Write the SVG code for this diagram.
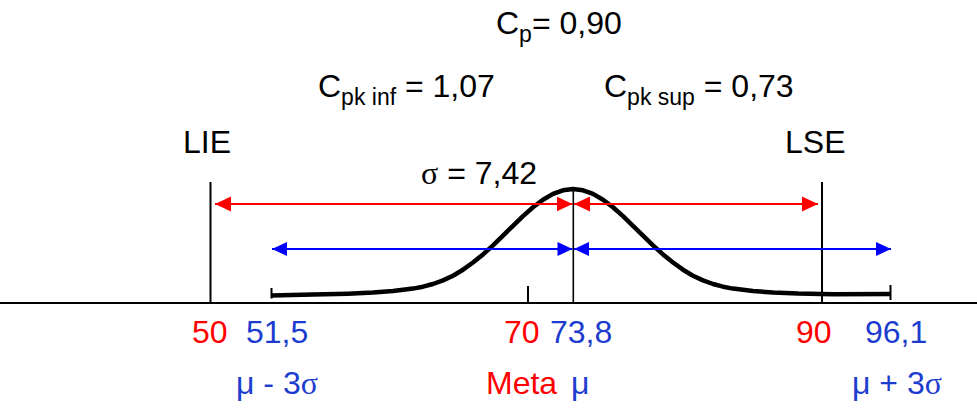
<svg xmlns="http://www.w3.org/2000/svg" width="977" height="408" viewBox="0 0 977 408">
  <style>
    text { font-family: "Liberation Sans", Arial, sans-serif; font-size: 32px; fill: #000; }
    .sub { font-size: 23px; }
    .red { fill: #ff0000; }
    .blue { fill: #1c3ccf; }
    .serif { font-family: "Liberation Serif", "Times New Roman", serif; }
    .axis { stroke: #000; stroke-width: 2; fill: none; }
    .thin { stroke: #000; stroke-width: 1.6; fill: none; }
    .curve { stroke: #000; stroke-width: 4.5; fill: none; stroke-linejoin: round; }
    .ra { stroke: #ff0000; stroke-width: 2.2; fill: none; marker-start: url(#rs); marker-end: url(#re); }
    .ba { stroke: #0000ff; stroke-width: 2.2; fill: none; marker-start: url(#bs); marker-end: url(#be); }
  </style>
  <defs>
    <marker id="re" markerUnits="userSpaceOnUse" markerWidth="17" markerHeight="16" refX="16" refY="8" orient="auto">
      <path d="M0,0.5 L16,8 L0,15.5 Z" fill="#ff0000"/>
    </marker>
    <marker id="rs" markerUnits="userSpaceOnUse" markerWidth="17" markerHeight="16" refX="0" refY="8" orient="auto">
      <path d="M16,0.5 L0,8 L16,15.5 Z" fill="#ff0000"/>
    </marker>
    <marker id="be" markerUnits="userSpaceOnUse" markerWidth="17" markerHeight="16" refX="16" refY="8" orient="auto">
      <path d="M0,1 L15,8 L0,15 Z" fill="#0000ff" transform="translate(1,0)"/>
    </marker>
    <marker id="bs" markerUnits="userSpaceOnUse" markerWidth="17" markerHeight="16" refX="0" refY="8" orient="auto">
      <path d="M15,1 L0,8 L15,15 Z" fill="#0000ff"/>
    </marker>
  </defs>

  <g id="axis">
    <line class="axis" x1="0" y1="303" x2="977" y2="303"/>
  </g>

  <g id="lie-line"><line class="axis" x1="210.5" y1="182" x2="210.5" y2="303"/></g>
  <g id="lse-line"><line class="axis" x1="822" y1="182" x2="822" y2="303"/></g>
  <g id="mu-line"><line class="thin" x1="573.3" y1="189" x2="573.3" y2="303"/></g>
  <g id="meta-tick"><line class="axis" x1="528" y1="286" x2="528" y2="303"/></g>

  <g id="curve">
    <path class="curve" d="M271,295.5 L313,294.6 L348,293.7 L373,292.6 L393,291.1 L413,288.6 L423,286.7 L433,284.0 L443,280.4 L453,275.7 L463,269.7 L473,262.5 L483,254.4 L493,245.3 L503,235.6 L513,225.8 L523,216.1 L533,207.3 L543,199.7 L553,193.9 L563,190.3 L573,189 L583,190.3 L593,193.9 L603,199.7 L613,207.3 L623,216.1 L633,225.8 L643,235.6 L653,245.3 L663,254.4 L673,262.5 L683,269.7 L693,275.7 L703,280.4 L713,284.0 L723,286.7 L733,288.6 L753,291.0 L773,292.5 L798,293.6 L833,294.3 L890.5,294"/>
    <line class="axis" x1="271.5" y1="288" x2="271.5" y2="298.5"/>
    <line class="axis" x1="890.5" y1="285" x2="890.5" y2="300"/>
  </g>

  <g id="connectors">
    <line class="ra" x1="215" y1="204" x2="572.5" y2="204"/>
    <line class="ra" x1="574" y1="204" x2="818" y2="204"/>
    <line class="ba" x1="272" y1="249" x2="572.5" y2="249"/>
    <line class="ba" x1="574" y1="249" x2="891" y2="249"/>
  </g>

  <g id="cp"><text x="496" y="34">C<tspan class="sub" dy="8">p</tspan><tspan dy="-8">= 0,90</tspan></text></g>
  <g id="cpk-inf"><text x="318" y="97">C<tspan class="sub" dy="8">pk inf</tspan><tspan dy="-8"> = 1,07</tspan></text></g>
  <g id="cpk-sup"><text x="604" y="97">C<tspan class="sub" dy="8">pk sup</tspan><tspan dy="-8"> = 0,73</tspan></text></g>

  <g id="lie"><text x="183" y="153">LIE</text></g>
  <g id="lse"><text x="785" y="153">LSE</text></g>
  <g id="sigma"><text x="421" y="184"><tspan class="serif">σ</tspan> = 7,42</text></g>

  <g id="v50"><text class="red" x="192" y="343">50</text></g>
  <g id="v51"><text class="blue" x="246" y="343">51,5</text></g>
  <g id="v70"><text class="red" x="504" y="343">70</text></g>
  <g id="v73"><text class="blue" x="550" y="343">73,8</text></g>
  <g id="v90"><text class="red" x="796" y="343">90</text></g>
  <g id="v96"><text class="blue" x="865" y="343">96,1</text></g>

  <g id="mu-minus"><text class="blue" x="236" y="394">μ - 3<tspan class="serif">σ</tspan></text></g>
  <g id="meta"><text class="red" x="486" y="394">Meta</text></g>
  <g id="mu"><text class="blue" x="571" y="394">μ</text></g>
  <g id="mu-plus"><text class="blue" x="852" y="394">μ + 3<tspan class="serif">σ</tspan></text></g>
</svg>
